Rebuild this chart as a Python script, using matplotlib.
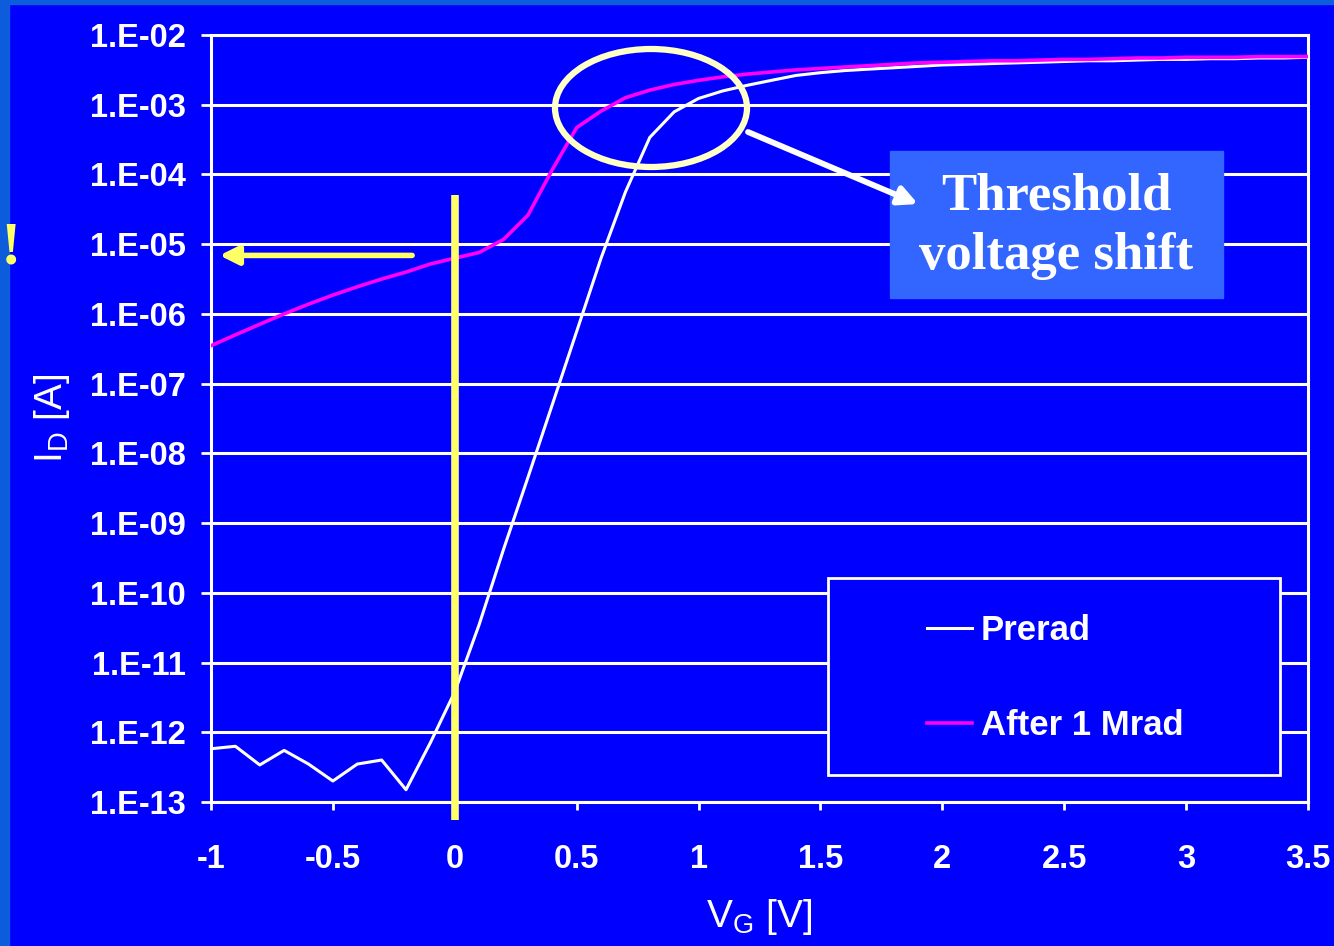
import matplotlib.pyplot as plt
from matplotlib.patches import Ellipse, Rectangle, FancyArrowPatch
from matplotlib.ticker import NullLocator

# gate voltage [V]
vg = [-1.0, -0.9, -0.8, -0.7, -0.6, -0.5, -0.4, -0.3, -0.2, -0.1,
      0.0, 0.1, 0.2, 0.3, 0.4, 0.5, 0.6, 0.7, 0.8, 0.9,
      1.0, 1.1, 1.2, 1.3, 1.4, 1.5, 1.6, 1.7, 1.8, 1.9,
      2.0, 2.1, 2.2, 2.3, 2.4, 2.5, 2.6, 2.7, 2.8, 2.9,
      3.0, 3.1, 3.2, 3.3, 3.4, 3.5]

# drain current [A], before irradiation
id_prerad = [5.8e-13, 6.3e-13, 3.4e-13, 5.5e-13, 3.5e-13, 2.0e-13, 3.5e-13, 4.0e-13, 1.5e-13, 7.1e-13,
             3.8e-12, 3.5e-11, 4.2e-10, 4.5e-9, 5.0e-8, 5.6e-7, 6.3e-6, 5.6e-5, 3.4e-4, 7.9e-4,
             1.23e-3, 1.58e-3, 1.9e-3, 2.24e-3, 2.63e-3, 2.88e-3, 3.09e-3, 3.24e-3, 3.39e-3, 3.55e-3,
             3.72e-3, 3.8e-3, 3.89e-3, 3.98e-3, 4.07e-3, 4.17e-3, 4.27e-3, 4.27e-3, 4.37e-3, 4.47e-3,
             4.47e-3, 4.57e-3, 4.57e-3, 4.68e-3, 4.68e-3, 4.79e-3]

# drain current [A], after 1 Mrad
id_1mrad = [3.5e-7, 5.0e-7, 7.1e-7, 1.0e-6, 1.38e-6, 1.86e-6, 2.45e-6, 3.16e-6, 3.98e-6, 5.2e-6,
            6.3e-6, 7.6e-6, 1.17e-5, 2.6e-5, 1.17e-4, 4.7e-4, 8.1e-4, 1.26e-3, 1.62e-3, 1.95e-3,
            2.24e-3, 2.51e-3, 2.75e-3, 2.95e-3, 3.16e-3, 3.31e-3, 3.47e-3, 3.63e-3, 3.8e-3, 3.98e-3,
            4.07e-3, 4.17e-3, 4.27e-3, 4.27e-3, 4.37e-3, 4.47e-3, 4.47e-3, 4.57e-3, 4.68e-3, 4.68e-3,
            4.79e-3, 4.79e-3, 4.79e-3, 4.9e-3, 4.9e-3, 4.9e-3]

series_labels = ['Prerad', 'After 1 Mrad']

y_ticks = [1e-2, 1e-3, 1e-4, 1e-5, 1e-6, 1e-7, 1e-8, 1e-9, 1e-10, 1e-11, 1e-12, 1e-13]
y_tick_labels = ['1.E-02', '1.E-03', '1.E-04', '1.E-05', '1.E-06', '1.E-07',
                 '1.E-08', '1.E-09', '1.E-10', '1.E-11', '1.E-12', '1.E-13']
x_ticks = [-1, -0.5, 0, 0.5, 1, 1.5, 2, 2.5, 3, 3.5]
x_tick_labels = ['-1', '-0.5', '0', '0.5', '1', '1.5', '2', '2.5', '3', '3.5']

BLUE = '#0000ff'
YELLOW = '#ffff66'

plt.rcParams['font.family'] = ['Liberation Sans', 'DejaVu Sans']
plt.rcParams['mathtext.fontset'] = 'custom'
plt.rcParams['mathtext.rm'] = 'Liberation Sans'

W, H = 1334, 946
fig = plt.figure(figsize=(W / 100, H / 100), dpi=100)
fig.patch.set_facecolor(BLUE)
inch = fig.dpi_scale_trans


def pt(x, y):
    # pixel position measured from the top left -> inches
    return x / 100, (H - y) / 100


# lighter strips at the slide edge
fig.add_artist(Rectangle((0, 0), 0.09, H / 100, transform=inch, color='#0c5cdc', zorder=-1))
fig.add_artist(Rectangle((0, (H - 4) / 100), W / 100, 0.04, transform=inch, color='#0c5cdc', zorder=-1))

ax = fig.add_axes([211 / W, 1 - 802 / H, 1097 / W, 767 / H])
ax.set_facecolor(BLUE)
ax.set_yscale('log')
ax.set_xlim(-1, 3.5)
ax.set_ylim(1e-13, 1e-2)

l1, = ax.plot(vg, id_prerad, color='white', lw=2.2, zorder=3)
l2, = ax.plot(vg, id_1mrad, color='#ff00ff', lw=2.6, zorder=3)

ax.set_yticks(y_ticks, labels=y_tick_labels, fontweight='bold')
ax.set_xticks(x_ticks, labels=x_tick_labels, fontweight='bold')
ax.yaxis.set_minor_locator(NullLocator())
ax.tick_params(axis='y', length=7, width=2, color='white', pad=11,
               labelsize=23.5, labelcolor='white')
ax.tick_params(axis='x', length=6, width=2, color='white', pad=24,
               labelsize=23.5, labelcolor='white')
ax.grid(axis='y', color='white', lw=2.2)
for s in ax.spines.values():
    s.set_color('white')
    s.set_linewidth(2.2)

ax.set_ylabel(r'$\mathregular{I_D}$ [A]', color='white', fontsize=28, labelpad=13)
ax.set_xlabel(r'$\mathregular{V_G}$ [V]', color='white', fontsize=28, labelpad=16)

# yellow marker at V_G = 0 and arrow pointing to the axis
ax.plot([0, 0], [5e-5, 5.5e-14], color=YELLOW, lw=5.5, clip_on=False, zorder=4,
        solid_capstyle='butt')
ax.annotate('', xy=(-0.965, 6.9e-6), xytext=(-0.175, 6.9e-6),
            arrowprops=dict(arrowstyle='-|>', color=YELLOW, lw=4, mutation_scale=28,
                            shrinkA=0, shrinkB=0), zorder=4)
fig.text(1 / W, 1 - 249 / H, '!', color=YELLOW, fontsize=44, fontweight='bold',
         family=['Liberation Serif', 'DejaVu Serif'], ha='left', va='center')

# legend with a large frame
ax.add_patch(Rectangle(pt(828, 775), 4.52, 1.97, transform=inch, facecolor=BLUE,
                       edgecolor='white', lw=2, zorder=4, clip_on=False))
leg = ax.legend([l1, l2], series_labels, loc='upper left', bbox_to_anchor=pt(927, 614),
                bbox_transform=inch, frameon=False, borderpad=0, handlelength=1.3,
                handletextpad=0.25, labelspacing=1.78, borderaxespad=0,
                prop={'size': 25, 'weight': 'bold'}, labelcolor='white')

# threshold shift callout
fig.add_artist(Ellipse(pt(651, 108), 1.92, 1.18, transform=inch, fill=False,
                       edgecolor='#ffffc8', lw=4.5, zorder=5))
fig.add_artist(Rectangle(pt(890, 298), 3.33, 1.47, transform=inch, color='#3366ff', zorder=5))
fig.text(*pt(1056, 226), 'Threshold\nvoltage shift', transform=inch, color='white',
         fontsize=38, fontweight='bold', family=['Liberation Serif', 'DejaVu Serif'],
         ha='center', va='center', linespacing=1.3, zorder=6)
fig.add_artist(FancyArrowPatch(pt(748, 132), pt(918, 204), transform=inch,
                               arrowstyle='-|>', color='white', lw=4.2, mutation_scale=28,
                               shrinkA=0, shrinkB=0, zorder=7))

fig.savefig('out.png', dpi=100, facecolor=BLUE)
